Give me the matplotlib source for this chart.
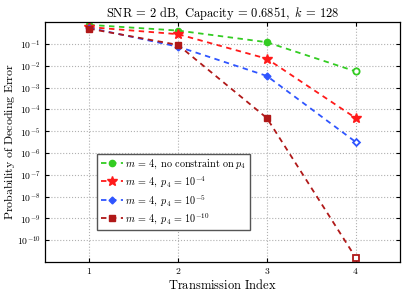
import matplotlib
matplotlib.use("Agg")
from matplotlib import pyplot as plt
from matplotlib.ticker import FixedLocator, FuncFormatter, NullLocator
import numpy as np

plt.rcParams['mathtext.fontset'] = 'cm'
plt.rcParams['font.family'] = 'DejaVu Serif'

# transmission index and error probabilities
tx = [1, 2, 3, 4]
no_constraint = [0.75, 0.41, 0.12, 0.0055]
p4_1e4 = [0.59, 0.28, 0.021, 4.0e-5]
p4_1e5 = [0.55, 0.075, 0.0034, 3.2e-6]
p4_1e10 = [0.50, 0.09, 4.0e-5, 1.6e-11]

labels = [r'$m\,=\,4,\ \mathrm{no\ constraint\ on}\ p_4$',
          r'$m\,=\,4,\ p_4\,=\,10^{-4}$',
          r'$m\,=\,4,\ p_4\,=\,10^{-5}$',
          r'$m\,=\,4,\ p_4\,=\,10^{-10}$']

fig = plt.figure(figsize=(4.15, 2.95), dpi=100)
ax = fig.add_axes([0.108, 0.112, 0.856, 0.813])

series = [no_constraint, p4_1e4, p4_1e5, p4_1e10]
colors = ['#33cc22', '#ff1a1a', '#2f55ff', '#b01818']
markers = ['o', '*', 'D', 's']
sizes = [4.5, 7.5, 3.5, 4]

for y, c, m, ms, lab in zip(series, colors, markers, sizes, labels):
    ax.plot(tx, y, '--', color=c, lw=1.3, marker=m, ms=ms, markevery=[0, 1, 2],
            mec=c, mfc=c, dashes=(3, 2.5), label=lab)
    # last point drawn hollow like in the original
    if m != '*':
        ax.plot(tx[-1:], y[-1:], linestyle='none', marker=m, ms=ms, mec=c,
                mfc='white', mew=1.3)
    else:
        ax.plot(tx[-1:], y[-1:], linestyle='none', marker=m, ms=ms, mec=c, mfc=c)

ax.set_yscale('log')
ax.set_xlim(0.5, 4.5)
ax.set_ylim(1e-11, 1)
ax.set_xticks(tx)
ax.yaxis.set_major_locator(FixedLocator([10.0 ** -k for k in range(1, 11)]))
ax.yaxis.set_minor_locator(NullLocator())
ax.yaxis.set_major_formatter(FuncFormatter(
    lambda v, p: r'$\mathsf{10}^{\mathsf{%d}}$' % round(np.log10(v))))
ax.xaxis.set_major_formatter(FuncFormatter(lambda v, p: r'$\mathsf{%d}$' % v))
ax.tick_params(direction='in', labelsize=7, length=3, top=True, right=True, pad=3)
ax.grid(True, linestyle=':', color='#b0b0b0', lw=0.8)
for s in ax.spines.values():
    s.set_linewidth(0.9)

ax.set_title(r'$\mathrm{SNR}\,=\,2\ \mathrm{dB},\ \mathrm{Capacity}\,=\,0.6851,\ k\,=\,128$',
             fontsize=9, pad=4)
ax.set_xlabel(r'$\mathrm{Transmission\ Index}$', fontsize=9, labelpad=1)
ax.set_ylabel(r'$\mathrm{Probability\ of\ Decoding\ Error}$', fontsize=8.6)
ax.yaxis.set_label_coords(-0.078, 0.5)

leg = ax.legend(loc='lower left', bbox_to_anchor=(0.148, 0.135), fontsize=7.3,
                fancybox=False, framealpha=1, edgecolor='#555555',
                handlelength=2.2, handletextpad=0.2, borderpad=0.35,
                labelspacing=0.35, borderaxespad=0)
leg.get_frame().set_linewidth(1.0)

fig.savefig('out.png', dpi=100)
